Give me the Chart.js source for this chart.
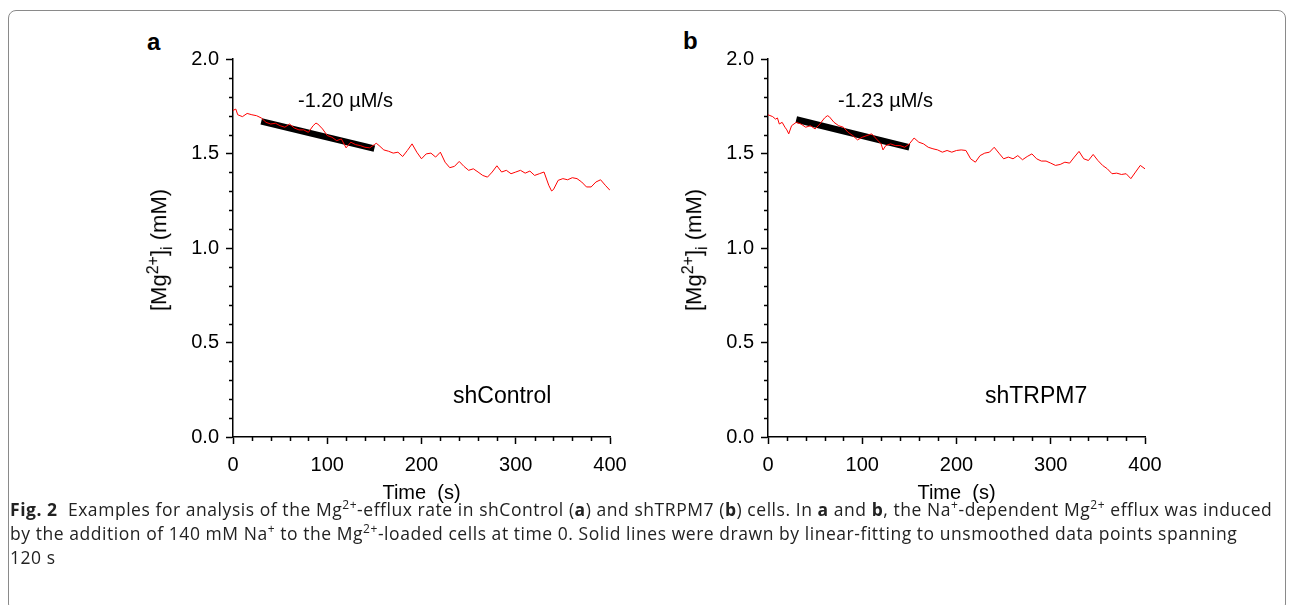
<!DOCTYPE html>
<html>
<head>
<meta charset="utf-8">
<script src="https://cdn.jsdelivr.net/npm/chart.js@4.4.0/dist/chart.umd.min.js"></script>
<style>
body { margin: 0; width: 1293px; height: 605px; overflow: hidden; background: #fff; position: relative; font-family: "Liberation Sans", Arial, sans-serif; color: #000; }
.frame { position: absolute; left: 8px; top: 10px; width: 1276px; height: 600px; border: 1px solid #8a8a8a; border-radius: 8px; }
.panel { position: absolute; top: 40px; width: 500px; height: 470px; }
.lbl { position: absolute; font-weight: bold; font-size: 24px; }
.ytitle { position: absolute; font-size: 22px; white-space: nowrap; transform: translate(-50%, -50%) rotate(-90deg); }
.ytitle sup, .ytitle sub { font-size: 16px; }
.note { position: absolute; font-size: 20px; white-space: nowrap; }
.cell { position: absolute; font-size: 23px; white-space: nowrap; }
.caption { position: absolute; left: 10px; top: 497px; font-family: "Open Sans", sans-serif; font-size: 17.5px; line-height: 24px; color: #222; white-space: nowrap; letter-spacing: 0.55px; }
.caption sup { font-size: 12px; line-height: 0; }
</style>
</head>
<body>
<div class="frame"></div>

<div class="lbl" style="left:147px; top:28px;">a</div>
<div class="lbl" style="left:683px; top:27px;">b</div>

<div class="panel" style="left:140px;"><canvas id="chartA" width="500" height="470"></canvas></div>
<div class="panel" style="left:675px;"><canvas id="chartB" width="500" height="470"></canvas></div>

<div class="ytitle" style="left:160px; top:250px;">[Mg<sup>2+</sup>]<sub>i</sub> (mM)</div>
<div class="ytitle" style="left:695px; top:250px;">[Mg<sup>2+</sup>]<sub>i</sub> (mM)</div>

<div class="note" style="left:298px; top:89px;">-1.20 µM/s</div>
<div class="note" style="left:838px; top:89px;">-1.23 µM/s</div>
<div class="cell" style="left:453px; top:382px;">shControl</div>
<div class="cell" style="left:985px; top:382px;">shTRPM7</div>

<div class="caption"><b>Fig. 2</b>&nbsp; Examples for analysis of the Mg<sup>2+</sup>-efflux rate in shControl (<b>a</b>) and shTRPM7 (<b>b</b>) cells. In <b>a</b> and <b>b</b>, the Na<sup>+</sup>-dependent Mg<sup>2+</sup> efflux was induced<br>by the addition of 140 mM Na<sup>+</sup> to the Mg<sup>2+</sup>-loaded cells at time 0. Solid lines were drawn by linear-fitting to unsmoothed data points spanning<br>120 s</div>

<script>
// panel a: shControl trace
const timeA = [0, 3, 5, 10, 15, 20, 25, 30, 35, 40, 45, 50, 55, 60, 65, 70, 75, 80, 85, 88, 90, 95, 100, 105, 110, 115, 120, 125, 130, 135, 140, 145, 150, 152, 155, 160, 165, 170, 175, 180, 185, 190, 195, 200, 205, 210, 215, 220, 225, 230, 235, 240, 245, 250, 255, 260, 265, 270, 275, 280, 285, 290, 295, 300, 305, 310, 315, 320, 325, 330, 335, 338, 340, 345, 350, 355, 360, 365, 370, 375, 380, 385, 390, 395, 400];
const mgA = [1.728, 1.735, 1.705, 1.695, 1.712, 1.705, 1.700, 1.688, 1.665, 1.656, 1.660, 1.647, 1.639, 1.656, 1.635, 1.625, 1.625, 1.612, 1.647, 1.661, 1.656, 1.630, 1.595, 1.586, 1.568, 1.577, 1.530, 1.560, 1.547, 1.542, 1.533, 1.530, 1.547, 1.554, 1.542, 1.519, 1.512, 1.502, 1.507, 1.484, 1.516, 1.551, 1.507, 1.472, 1.498, 1.502, 1.481, 1.507, 1.454, 1.425, 1.432, 1.458, 1.432, 1.411, 1.419, 1.402, 1.384, 1.375, 1.402, 1.435, 1.402, 1.411, 1.393, 1.402, 1.411, 1.396, 1.407, 1.384, 1.393, 1.402, 1.332, 1.302, 1.309, 1.358, 1.367, 1.361, 1.372, 1.367, 1.349, 1.323, 1.323, 1.349, 1.361, 1.332, 1.305];

// panel b: shTRPM7 trace
const timeB = [0, 5, 8, 10, 12, 15, 18, 20, 22, 25, 30, 35, 40, 45, 50, 55, 60, 63, 65, 70, 75, 80, 85, 90, 95, 100, 105, 110, 115, 120, 122, 125, 130, 135, 140, 145, 150, 155, 160, 165, 170, 175, 180, 185, 190, 195, 200, 205, 210, 215, 220, 225, 230, 235, 240, 245, 250, 255, 260, 265, 270, 275, 280, 285, 290, 295, 300, 305, 310, 315, 320, 325, 330, 335, 340, 345, 350, 355, 360, 365, 370, 375, 380, 385, 390, 395, 400];
const mgB = [1.705, 1.695, 1.682, 1.688, 1.656, 1.665, 1.639, 1.625, 1.604, 1.647, 1.665, 1.656, 1.639, 1.647, 1.630, 1.656, 1.688, 1.700, 1.695, 1.665, 1.647, 1.639, 1.612, 1.595, 1.572, 1.586, 1.595, 1.604, 1.577, 1.551, 1.519, 1.542, 1.551, 1.542, 1.542, 1.533, 1.551, 1.582, 1.560, 1.551, 1.533, 1.525, 1.519, 1.507, 1.516, 1.507, 1.516, 1.519, 1.516, 1.472, 1.454, 1.489, 1.502, 1.507, 1.533, 1.502, 1.472, 1.481, 1.472, 1.489, 1.467, 1.484, 1.498, 1.472, 1.460, 1.460, 1.449, 1.437, 1.442, 1.454, 1.449, 1.481, 1.511, 1.472, 1.463, 1.495, 1.463, 1.437, 1.419, 1.393, 1.396, 1.389, 1.393, 1.367, 1.402, 1.437, 1.419];

// linear fits over 120 s (start/end)
const fitTime = [30, 150];
const fitA = [1.670, 1.526];
const fitB = [1.680, 1.532];

const xTicks = [0, 100, 200, 300, 400];
const yTicks = [0, 0.5, 1.0, 1.5, 2.0];
const xMinorStep = 20;
const yMinorStep = 0.1;

const minorTicks = {
    id: "minorTicks",
    afterDraw(chart) {
        const { ctx, scales: { x, y } } = chart;
        ctx.save();
        ctx.strokeStyle = "#000";
        ctx.lineWidth = 1.5;
        ctx.beginPath();
        for (let v = xTicks[0]; v <= xTicks[xTicks.length - 1]; v += xMinorStep) {
            if (v % 100 === 0) continue;
            const px = Math.round(x.getPixelForValue(v)) + 0.5;
            ctx.moveTo(px, y.bottom);
            ctx.lineTo(px, y.bottom + 4);
        }
        for (let i = 1; i < 20; i++) {
            if (i % 5 === 0) continue;
            const py = Math.round(y.getPixelForValue(i * yMinorStep)) + 0.5;
            ctx.moveTo(x.left, py);
            ctx.lineTo(x.left - 4, py);
        }
        ctx.stroke();
        ctx.restore();
    },
};

function toPoints(xs, ys) {
    return xs.map((t, i) => ({ x: t, y: ys[i] }));
}

function makePanel(id, time, mg, fit) {
    const tickFont = { family: "'Liberation Sans', Arial", size: 20 };
    return new Chart(document.getElementById(id), {
        type: "line",
        data: {
            datasets: [
                {
                    data: toPoints(time, mg),
                    borderColor: "#ff0000",
                    borderWidth: 1,
                    pointRadius: 0,
                    tension: 0,
                },
                {
                    data: toPoints(fitTime, fit),
                    borderColor: "#000",
                    borderWidth: 6.5,
                    pointRadius: 0,
                    borderCapStyle: "butt",
                },
            ],
        },
        options: {
            responsive: false,
            animation: false,
            events: [],
            layout: { padding: { top: 19, right: 30, left: 0, bottom: 0 } },
            plugins: { legend: { display: false }, tooltip: { enabled: false } },
            scales: {
                x: {
                    type: "linear",
                    min: 0,
                    max: 400,
                    afterBuildTicks: (s) => { s.ticks = xTicks.map((v) => ({ value: v })); },
                    ticks: { font: tickFont, color: "#000", padding: 9, maxRotation: 0 },
                    grid: { drawOnChartArea: false, color: "#000", tickLength: 7, tickWidth: 1.5 },
                    border: { color: "#000", width: 1.5 },
                    title: {
                        display: true,
                        text: "Time  (s)",
                        color: "#000",
                        font: { family: "'Liberation Sans', Arial", size: 20 },
                        padding: { top: 0, bottom: 5 },
                    },
                    afterFit: (s) => { s.height = 73; },
                },
                y: {
                    type: "linear",
                    min: 0,
                    max: 2,
                    afterBuildTicks: (s) => { s.ticks = yTicks.map((v) => ({ value: v })); },
                    ticks: { font: tickFont, color: "#000", padding: 7, callback: (v) => Number(v).toFixed(1) },
                    grid: { drawOnChartArea: false, color: "#000", tickLength: 7, tickWidth: 1.5 },
                    border: { color: "#000", width: 1.5 },
                    afterFit: (s) => { s.width = 93; },
                },
            },
        },
        plugins: [minorTicks],
    });
}

makePanel("chartA", timeA, mgA, fitA);
makePanel("chartB", timeB, mgB, fitB);
</script>
</body>
</html>
